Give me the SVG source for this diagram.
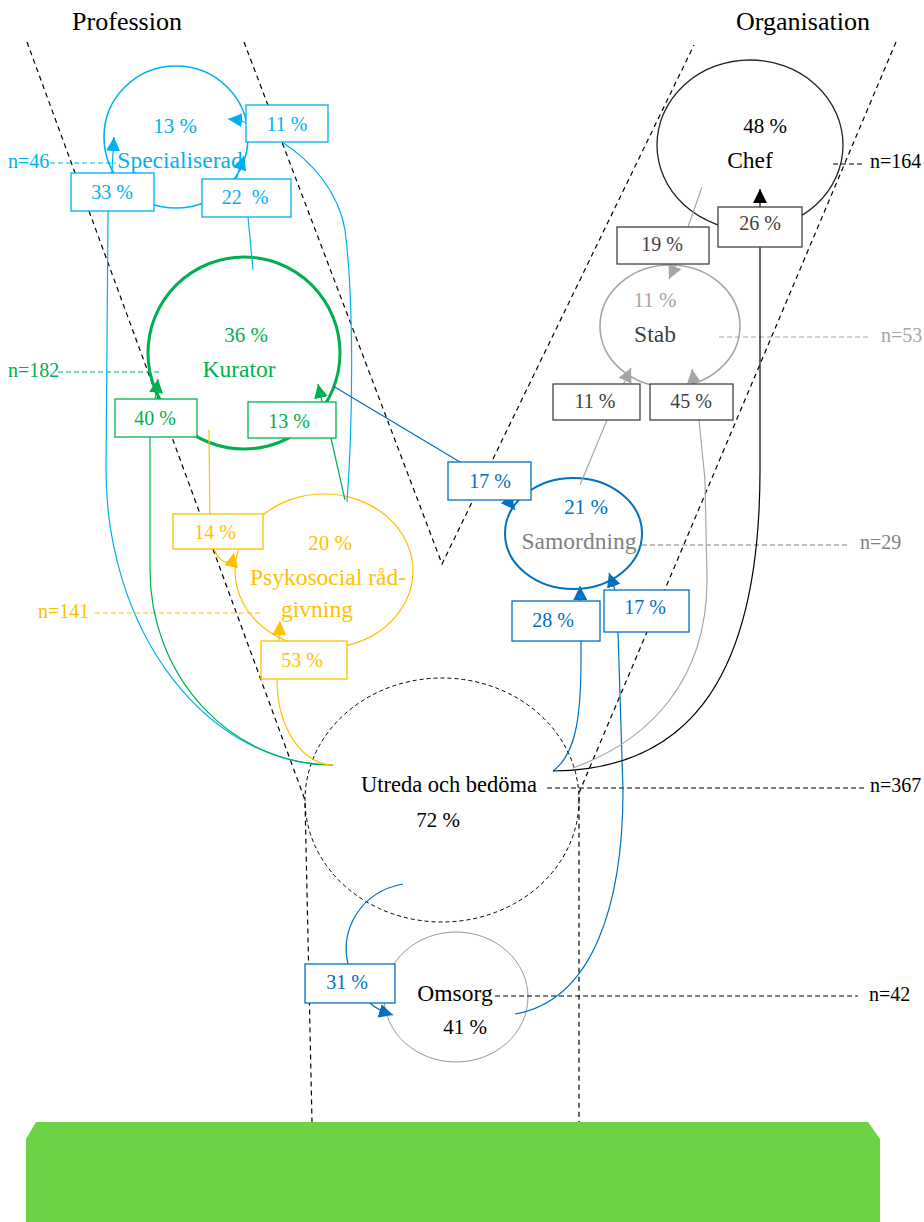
<svg xmlns="http://www.w3.org/2000/svg" width="924" height="1222" viewBox="0 0 924 1222">
<style>
text{font-family:"Liberation Serif","Times New Roman",serif;}
.t{font-size:26px;fill:#000;text-anchor:middle}
.nm{font-size:23.5px;text-anchor:middle}
.pc{font-size:21px;text-anchor:middle}
.bl{font-size:20px;text-anchor:middle}
.n{font-size:20px}
.guide{fill:none;stroke:#000;stroke-width:1.2;stroke-dasharray:5 4}
.dl{fill:none;stroke-width:1.2;stroke-dasharray:5 3}
.c{fill:none;stroke-width:1.2}
.box{fill:#fff;stroke-width:1.3}
.lb{stroke:#00B0F0}.lbf{fill:#00B0F0}
.gr{stroke:#00B050}.grf{fill:#00B050}
.or{stroke:#FFC000}.orf{fill:#FFC000}
.db{stroke:#0070C0}.dbf{fill:#0070C0}
.gy{stroke:#A6A6A6}.gyf{fill:#A6A6A6}
.dg{stroke:#404040}.dgf{fill:#404040}
.bk{stroke:#000}.bkf{fill:#000}
.mg{stroke:#7F7F7F}.mgf{fill:#7F7F7F}
</style>
<defs>
<marker id="m-lb" viewBox="0 0 10 10" refX="10" refY="5" markerWidth="14" markerHeight="14" markerUnits="userSpaceOnUse" orient="auto"><path d="M0,0 L10,5 L0,10 z" fill="#00B0F0"/></marker>
<marker id="m-gr" viewBox="0 0 10 10" refX="10" refY="5" markerWidth="14" markerHeight="14" markerUnits="userSpaceOnUse" orient="auto"><path d="M0,0 L10,5 L0,10 z" fill="#00B050"/></marker>
<marker id="m-or" viewBox="0 0 10 10" refX="10" refY="5" markerWidth="14" markerHeight="14" markerUnits="userSpaceOnUse" orient="auto"><path d="M0,0 L10,5 L0,10 z" fill="#FFC000"/></marker>
<marker id="m-db" viewBox="0 0 10 10" refX="10" refY="5" markerWidth="14" markerHeight="14" markerUnits="userSpaceOnUse" orient="auto"><path d="M0,0 L10,5 L0,10 z" fill="#0070C0"/></marker>
<marker id="m-gy" viewBox="0 0 10 10" refX="10" refY="5" markerWidth="14" markerHeight="14" markerUnits="userSpaceOnUse" orient="auto"><path d="M0,0 L10,5 L0,10 z" fill="#A6A6A6"/></marker>
<marker id="m-bk" viewBox="0 0 10 10" refX="10" refY="5" markerWidth="14" markerHeight="14" markerUnits="userSpaceOnUse" orient="auto"><path d="M0,0 L10,5 L0,10 z" fill="#000"/></marker>
</defs>
<rect width="924" height="1222" fill="#fff"/>

<g id="ground">
<polygon points="26,1139 36,1122 868,1122 880,1139 880,1222 26,1222" fill="#6CD246"/>
</g>

<g id="titles">
<text class="t" x="127" y="30">Profession</text>
<text class="t" x="803" y="30">Organisation</text>
</g>

<g id="guides">
<polyline class="guide" points="27,42 305,800 312,1122"/>
<polyline class="guide" points="244,42 442,564 694,45"/>
<polyline class="guide" points="896,42 579,793 579,1122"/>
</g>

<g id="node-utreda">
<ellipse cx="442" cy="800" rx="137" ry="122" fill="none" stroke="#000" stroke-width="1" stroke-dasharray="4 3"/>
<text class="nm" x="449" y="792" style="font-size:22.5px">Utreda och bedöma</text>
<text class="pc" x="438" y="827">72 %</text>
<line class="dl bk" x1="547" y1="788" x2="865" y2="788"/>
<text class="n" x="870" y="792">n=367</text>
</g>

<g id="node-omsorg">
<ellipse cx="456" cy="997" rx="72" ry="65" fill="none" stroke="#999" stroke-width="1"/>
<text class="nm" x="455" y="1001">Omsorg</text>
<text class="pc" x="465" y="1034">41 %</text>
<line class="dl bk" x1="495" y1="996" x2="858" y2="996"/>
<text class="n" x="869" y="1001">n=42</text>
</g>

<g id="node-specialiserad">
<ellipse cx="176" cy="137" rx="72" ry="71" fill="none" stroke="#00B0F0" stroke-width="1.6"/>
<text class="pc lbf" x="175" y="133">13 %</text>
<line class="dl lb" x1="50" y1="163" x2="116" y2="163"/>
<text class="n lbf" x="8" y="168">n=46</text>
<text class="nm lbf" x="180" y="168">Specialiserad</text>
</g>

<g id="node-kurator">
<ellipse cx="244" cy="353" rx="96" ry="96" fill="none" stroke="#00B050" stroke-width="3"/>
<text class="pc grf" x="246" y="342">36 %</text>
<text class="nm grf" x="239" y="377">Kurator</text>
<line class="dl gr" x1="58" y1="372" x2="160" y2="372"/>
<text class="n grf" x="8" y="377">n=182</text>
</g>

<g id="node-psykosocial">
<ellipse cx="324" cy="571" rx="89" ry="77" fill="none" stroke="#FFC000" stroke-width="1.2"/>
<text class="pc orf" x="330" y="550">20 %</text>
<text class="nm orf" x="328" y="585">Psykosocial råd-</text>
<text class="nm orf" x="317" y="617">givning</text>
<line class="dl or" x1="95" y1="613" x2="262" y2="613"/>
<text class="n orf" x="38" y="618">n=141</text>
</g>

<g id="node-chef">
<ellipse cx="750" cy="145" rx="93" ry="85" fill="none" stroke="#222" stroke-width="1.3"/>
<text class="pc" x="765" y="133">48 %</text>
<text class="nm" x="750" y="168">Chef</text>
<line class="dl bk" x1="833" y1="164" x2="865" y2="164"/>
<text class="n" x="870" y="168">n=164</text>
</g>

<g id="node-stab">
<ellipse cx="670" cy="326" rx="70" ry="61" fill="none" stroke="#A6A6A6" stroke-width="1.6"/>
<text class="pc gyf" x="655" y="307">11 %</text>
<text class="nm dgf" x="655" y="342">Stab</text>
<line class="dl gy" x1="719" y1="337" x2="870" y2="337"/>
<text class="n gyf" x="881" y="342">n=53</text>
</g>

<g id="node-samordning">
<ellipse cx="573.5" cy="533.5" rx="68.5" ry="55.5" fill="none" stroke="#0070C0" stroke-width="2"/>
<text class="pc dbf" x="586" y="514">21 %</text>
<text class="nm mgf" x="579" y="549">Samordning</text>
<line class="dl mg" x1="642" y1="545" x2="850" y2="545"/>
<text class="n mgf" x="860" y="549">n=29</text>
</g>

<g id="connectors">
<path class="c lb" d="M333,765 A227,295 0 0 1 106,470 L108,215 L112,170 L114,137" marker-end="url(#m-lb)"/>
<path class="c lb" d="M253,270 L248,217 L236,180 C238,172 241,165 244,156" marker-end="url(#m-lb)"/>
<path class="c lb" d="M347,502 C353,420 354,300 345,230 C338,190 310,160 282,142 L240,120 L228,119" marker-end="url(#m-lb)"/>
<path class="c gr" d="M333,765 A183,195 0 0 1 150,570 L150,437 L155,400 L158,379" marker-end="url(#m-gr)"/>
<path class="c gr" d="M345,500 L331,438 L322,402 L318,384" marker-end="url(#m-gr)"/>
<path class="c or" d="M333,765 A56,85 0 0 1 277,680 L279,641 L280,621" marker-end="url(#m-or)"/>
<path class="c or" d="M209,430 L210,530 C212,560 230,572 234,553" marker-end="url(#m-or)"/>
<path class="c db" d="M333,386 L490,480 L505,497 L515,510" marker-end="url(#m-db)"/>
<path class="c db" d="M553,771 C575,755 581,720 581,660 L581,641 L580,586" marker-end="url(#m-db)"/>
<path class="c db" d="M515,1014 C595,1000 623,900 623,790 L618,632 L615,590 L609,573" marker-end="url(#m-db)"/>
<path class="c db" d="M403,884 C360,892 340,930 348,964 L370,1003 C376,1009 383,1012 393,1015" marker-end="url(#m-db)"/>
<path class="c gy" d="M580,485 L607,420 L631,368" marker-end="url(#m-gy)"/>
<path class="c gy" d="M573,768 C650,740 707,680 707,580 L705,480 L699,420 L692,369" marker-end="url(#m-gy)"/>
<path class="c gy" d="M702,187 L688,227 L675,266 L669,279" marker-end="url(#m-gy)"/>
<path class="c bk" d="M553,771 C680,770 760,690 760,470 L760,247 L760,189" marker-end="url(#m-bk)"/>
</g>

<g id="labels">
<g id="lbl-spec-11"><rect class="box lb" x="246" y="105" width="82" height="37"/><text class="bl lbf" x="287" y="131">11 %</text></g>
<g id="lbl-spec-33"><rect class="box lb" x="71" y="173" width="83" height="38"/><text class="bl lbf" x="112" y="199">33 %</text></g>
<g id="lbl-spec-22"><rect class="box lb" x="202" y="179" width="89" height="38"/><text class="bl lbf" x="245" y="204">22&#160; %</text></g>
<g id="lbl-kur-40"><rect class="box gr" x="115" y="399" width="82" height="38"/><text class="bl grf" x="155" y="425">40 %</text></g>
<g id="lbl-kur-13"><rect class="box gr" x="248" y="402" width="88" height="36"/><text class="bl grf" x="289" y="428">13 %</text></g>
<g id="lbl-psy-14"><rect class="box or" x="173" y="514" width="90" height="35"/><text class="bl orf" x="215" y="539">14 %</text></g>
<g id="lbl-psy-53"><rect class="box or" x="261" y="641" width="86" height="38"/><text class="bl orf" x="302" y="667">53 %</text></g>
<g id="lbl-sam-17a"><rect class="box db" x="448" y="462" width="83" height="38"/><text class="bl dbf" x="490" y="488">17 %</text></g>
<g id="lbl-sam-28"><rect class="box db" x="512" y="601" width="88" height="40"/><text class="bl dbf" x="553" y="627">28 %</text></g>
<g id="lbl-sam-17b"><rect class="box db" x="604" y="590" width="85" height="42"/><text class="bl dbf" x="645" y="614">17 %</text></g>
<g id="lbl-oms-31"><rect class="box db" x="305" y="964" width="90" height="39"/><text class="bl dbf" x="347" y="989">31 %</text></g>
<g id="lbl-stab-11"><rect class="box dg" x="553" y="384" width="87" height="36"/><text class="bl dgf" x="595" y="408">11 %</text></g>
<g id="lbl-stab-45"><rect class="box dg" x="650" y="384" width="83" height="36"/><text class="bl dgf" x="691" y="408">45 %</text></g>
<g id="lbl-stab-19"><rect class="box dg" x="617" y="227" width="92" height="37"/><text class="bl dgf" x="662" y="251">19 %</text></g>
<g id="lbl-chef-26"><rect class="box dg" x="718" y="207" width="84" height="40"/><text class="bl dgf" x="760" y="230">26 %</text></g>
</g>
</svg>
